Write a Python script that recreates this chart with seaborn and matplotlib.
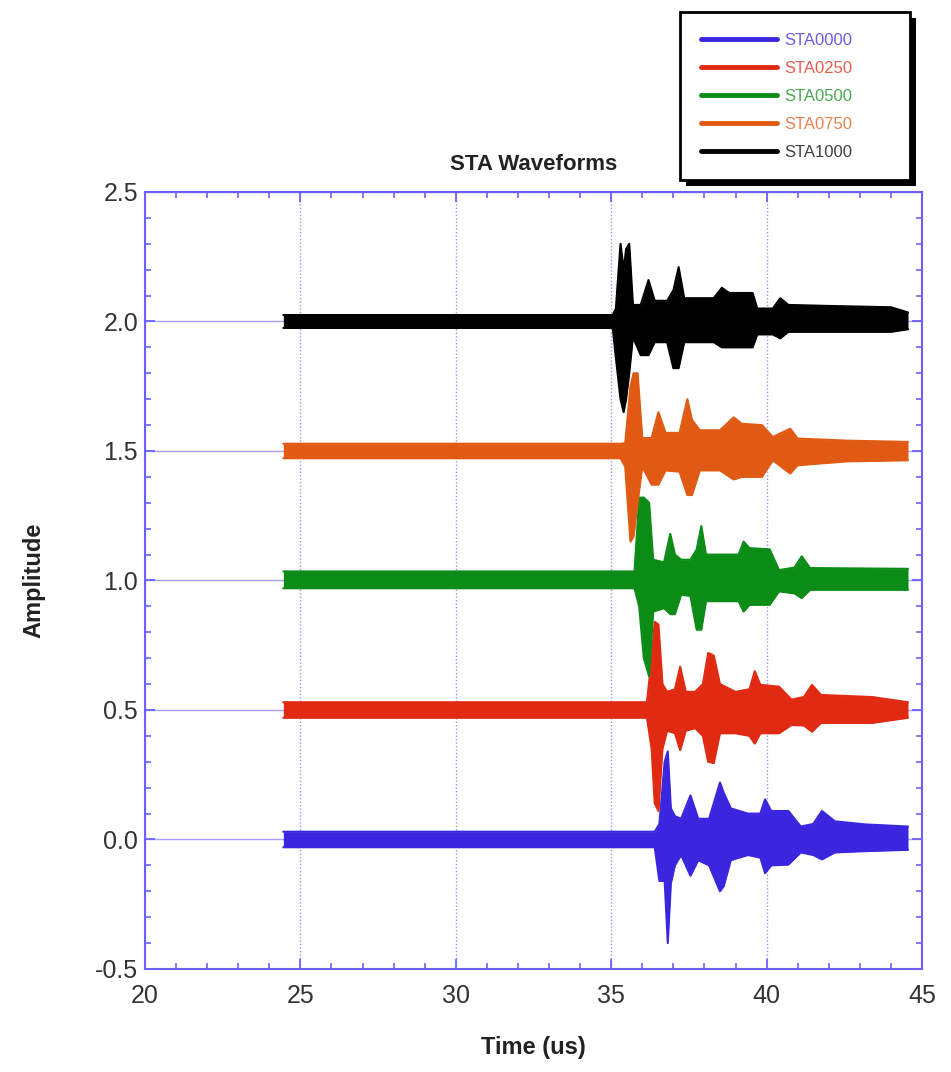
import numpy as np
import pandas as pd
import seaborn as sns
import matplotlib.pyplot as plt
from matplotlib.lines import Line2D
from matplotlib.patches import Rectangle
from matplotlib.ticker import MultipleLocator

# waveform envelopes: knot times and upper / lower extremes
stations = ['STA0000', 'STA0250', 'STA0500', 'STA0750', 'STA1000']
offsets = [0.0, 0.5, 1.0, 1.5, 2.0]
colors = ['#3a26de', '#e02a12', '#0b8c16', '#e05a14', '#000000']

sta0000_t = [24.45, 36.40, 36.55, 36.72, 36.82, 36.92, 37.05, 37.25, 37.55, 37.80, 38.15, 38.50, 38.62,
             38.85, 39.40, 39.80, 39.95, 40.15, 40.70, 41.10, 41.50, 41.78, 42.20, 43.20, 44.55]
sta0000_hi = [.03, .03, .06, .30, .34, .12, .09, .08, .17, .08, .08, .22, .18,
              .12, .10, .10, .155, .11, .11, .05, .06, .11, .07, .058, .05]
sta0000_lo = [-.03, -.03, -.16, -.16, -.40, -.17, -.10, -.06, -.14, -.08, -.10, -.20, -.18,
              -.08, -.06, -.07, -.13, -.10, -.097, -.05, -.06, -.077, -.05, -.045, -.04]

sta0250_t = [24.45, 36.15, 36.30, 36.40, 36.52, 36.65, 36.80, 37.05, 37.22, 37.40, 37.70, 37.95, 38.12,
             38.30, 38.50, 39.00, 39.45, 39.62, 39.80, 40.40, 40.80, 41.20, 41.46, 41.75, 43.40, 44.55]
sta0250_hi = [.03, .03, .20, .34, .33, .10, .07, .08, .167, .07, .07, .10, .22,
              .21, .10, .07, .08, .15, .097, .09, .04, .05, .097, .058, .05, .03]
sta0250_lo = [-.03, -.03, -.15, -.36, -.39, -.15, -.08, -.09, -.155, -.08, -.07, -.10, -.20,
              -.205, -.09, -.09, -.10, -.13, -.09, -.09, -.058, -.06, -.084, -.05, -.05, -.03]

sta0500_t = [24.45, 35.75, 35.90, 36.05, 36.22, 36.35, 36.70, 36.90, 37.05, 37.25, 37.55, 37.75,
             37.90, 38.05, 38.60, 39.10, 39.26, 39.45, 40.10, 40.40, 40.90, 41.13, 41.40, 44.55]
sta0500_hi = [.035, .035, .32, .32, .30, .08, .07, .18, .10, .08, .08, .12,
              .21, .10, .10, .10, .15, .125, .12, .04, .05, .093, .048, .045]
sta0500_lo = [-.03, -.03, -.10, -.30, -.37, -.12, -.107, -.13, -.13, -.055, -.06, -.19,
              -.19, -.08, -.08, -.08, -.12, -.094, -.094, -.042, -.05, -.068, -.036, -.036]

sta0750_t = [24.45, 35.30, 35.45, 35.62, 35.72, 35.85, 36.00, 36.30, 36.52, 36.75, 37.20, 37.45,
             37.60, 37.85, 38.50, 38.94, 39.20, 39.85, 40.20, 40.76, 41.00, 42.60, 44.55]
sta0750_hi = [.028, .028, .03, .25, .30, .30, .05, .05, .15, .07, .07, .20,
              .12, .08, .08, .13, .105, .10, .054, .086, .048, .04, .035]
sta0750_lo = [-.028, -.028, -.06, -.35, -.33, -.20, -.06, -.13, -.13, -.075, -.08, -.17,
              -.17, -.075, -.075, -.11, -.10, -.10, -.036, -.087, -.055, -.04, -.036]

sta1000_t = [24.45, 35.05, 35.15, 35.30, 35.40, 35.48, 35.58, 35.70, 35.95, 36.20, 36.40, 36.80, 37.00,
             37.17, 37.35, 38.30, 38.56, 38.80, 39.55, 39.70, 40.20, 40.44, 40.70, 42.00, 44.00, 44.55]
sta1000_hi = [.025, .025, .05, .30, .20, .28, .30, .064, .064, .16, .08, .08, .12,
              .21, .09, .09, .13, .11, .11, .05, .05, .09, .064, .06, .055, .035]
sta1000_lo = [-.025, -.025, -.14, -.30, -.35, -.30, -.20, -.06, -.13, -.13, -.08, -.08, -.18,
              -.18, -.08, -.08, -.10, -.10, -.10, -.05, -.05, -.065, -.04, -.04, -.04, -.03]

env = {
    'STA0000': (sta0000_t, sta0000_hi, sta0000_lo),
    'STA0250': (sta0250_t, sta0250_hi, sta0250_lo),
    'STA0500': (sta0500_t, sta0500_hi, sta0500_lo),
    'STA0750': (sta0750_t, sta0750_hi, sta0750_lo),
    'STA1000': (sta1000_t, sta1000_hi, sta1000_lo),
}

rows = []
for name, off in zip(stations, offsets):
    t, hi, lo = env[name]
    for a, b, c in zip(t, hi, lo):
        rows.append({'station': name, 'time': a, 'upper': off + b, 'lower': off + c})
df = pd.DataFrame(rows)

sns.set_style('ticks')
plt.rcParams['font.family'] = ['Liberation Sans', 'DejaVu Sans']
axcol = '#6e60ff'

fig = plt.figure(figsize=(9.51, 10.72), dpi=100)
ax = fig.add_axes([0.1525, 0.0961, 0.817, 0.7248])

pal = dict(zip(stations, colors))
for name in stations:
    d = df[df.station == name]
    ax.fill_between(d.time, d.lower, d.upper, color=pal[name], lw=0, zorder=3)
sns.lineplot(data=df, x='time', y='upper', hue='station', palette=pal, estimator=None,
             linewidth=1.5, legend=False, ax=ax, zorder=3)
sns.lineplot(data=df, x='time', y='lower', hue='station', palette=pal, estimator=None,
             linewidth=1.5, legend=False, ax=ax, zorder=3)

ax.set_xlim(20, 45)
ax.set_ylim(-0.5, 2.5)
ax.xaxis.set_major_locator(MultipleLocator(5))
ax.xaxis.set_minor_locator(MultipleLocator(1))
ax.yaxis.set_minor_locator(MultipleLocator(0.1))
ax.set_yticks([-0.5, 0, 0.5, 1.0, 1.5, 2.0, 2.5])
ax.set_yticklabels(['-0.5', '0.0', '0.5', '1.0', '1.5', '2.0', '2.5'])

ax.grid(axis='x', which='major', color=axcol, lw=1, ls=(0, (1, 1.5)), alpha=0.7, zorder=1)
ax.grid(axis='y', which='major', color=axcol, lw=1, alpha=0.6, zorder=1)
for s in ax.spines.values():
    s.set_color(axcol)
    s.set_linewidth(1.5)
ax.tick_params(which='both', direction='in', colors=axcol, top=True, right=True, labelcolor='#333333')
ax.tick_params(which='major', length=7, width=1.3, labelsize=18)
ax.tick_params(which='minor', length=4, width=1.2)
ax.tick_params(axis='x', which='major', pad=11)
ax.tick_params(axis='y', which='major', pad=5)

ax.set_xlabel('Time (us)', fontsize=17, fontweight='bold', color='#222222', labelpad=20)
ax.set_ylabel('Amplitude', fontsize=17, fontweight='bold', color='#222222', labelpad=36)
ax.set_title('STA Waveforms', fontsize=16, fontweight='bold', color='#222222', pad=16)

handles = [Line2D([], [], color=c, lw=3.5) for c in colors]
leg = fig.legend(handles, stations, loc='upper left', bbox_to_anchor=(0.715, 0.83, 0.242, 0.159),
                 mode='expand', fontsize=12, labelcolor=colors, handlelength=4.6, handletextpad=0.4,
                 labelspacing=0.78, borderpad=1.25, borderaxespad=0, fancybox=False, frameon=True)
leg.get_frame().set_edgecolor('black')
leg.get_frame().set_linewidth(2)
leg.get_frame().set_alpha(1)
leg.set_zorder(5)
for txt in leg.get_texts():
    txt.set_alpha(0.75)

# black drop shadow behind the legend box
fig.canvas.draw()
bb = leg.get_window_extent().transformed(fig.transFigure.inverted())
fig.patches.append(Rectangle((bb.x0 + 6 / 951, bb.y0 - 6 / 1072), bb.width, bb.height,
                             transform=fig.transFigure, facecolor='black', edgecolor='none', zorder=4))

fig.savefig('out.png', dpi=100)
